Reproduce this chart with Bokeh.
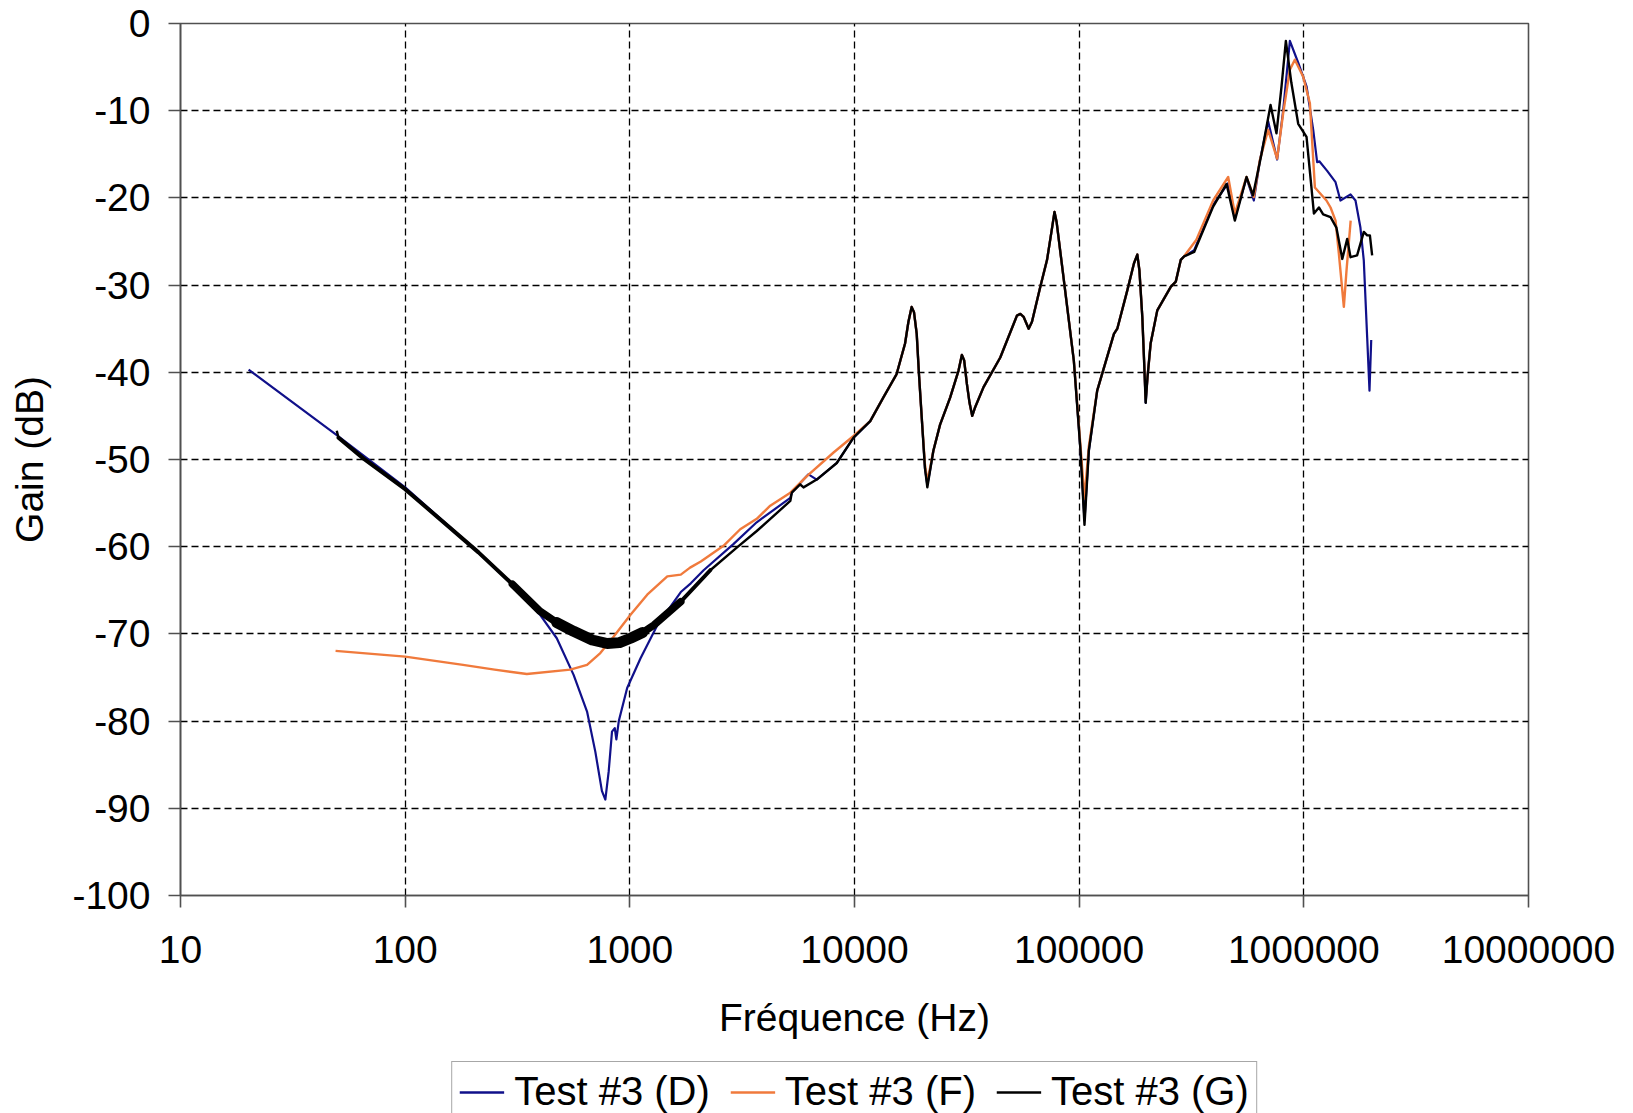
from bokeh.plotting import figure
from bokeh.layouts import column
from bokeh.models import FixedTicker, NumeralTickFormatter, Legend, LegendItem, ColumnDataSource
from bokeh.embed import file_html
from bokeh.resources import INLINE

# ---------------- data ----------------
FREQ_D = [20.1, 49.6, 100, 212, 300, 398, 473, 562, 645, 702, 751, 778, 805, 833, 857, 871, 893,
          973, 1116, 1325, 1686, 1868, 2130, 2890, 3670, 5180, 5260, 5930, 6240, 6790, 8340, 9900,
          11750, 13430, 15400, 16790, 17380, 17960, 18400, 18920, 19360, 19920, 20590, 21100, 21680,
          22440, 24040, 26650, 29040, 30060, 30780, 31630, 32510, 33420, 34440, 37530, 44550, 52840,
          54700, 56620, 59600, 61660, 67150, 71960, 75900, 77650, 79400, 84500, 94700, 101400, 105600,
          110400, 120300, 142800, 147800, 163800, 175400, 181500, 185400, 191000, 194500, 197700,
          201400, 208000, 222700, 255700, 269200, 283400, 293200, 325000, 394800, 460600, 493000,
          555700, 598900, 636600, 693500, 760500, 809100, 866700, 944000, 1028000, 1101000, 1146000,
          1172000, 1270000, 1384000, 1455000, 1614000, 1698000, 1786000, 1849000, 1914000, 1960000,
          1995000]
GAIN_D = [-39.7, -47.2, -53.2, -60.65, -64.3, -67.8, -70.5, -74.7, -78.9, -83.5, -88.0, -89.0, -85.8,
          -81.2, -80.8, -82.1, -80.0, -76.2, -72.8, -69.0, -65.2, -64.2, -62.7, -59.7, -57.2, -54.4,
          -53.8, -52.3, -51.7, -52.3, -50.4, -47.5, -45.6, -42.9, -40.2, -36.7, -34.2, -32.5, -33.1,
          -35.6, -40.2, -45.2, -51.0, -52.9, -51.3, -49.0, -46.0, -42.9, -39.8, -38.0, -38.65, -41.3,
          -43.5, -45.0, -44.0, -41.7, -38.3, -33.5, -33.3, -33.65, -35.0, -34.2, -30.2, -27.1, -23.3,
          -21.6, -22.8, -28.4, -38.7, -49.0, -57.0, -49.0, -42.1, -35.6, -35.0, -30.6, -27.5, -26.5,
          -28.3, -33.65, -38.65, -43.5, -40.6, -36.7, -32.9, -30.2, -29.6, -27.1, -26.7, -26.0, -20.8,
          -18.3, -22.3, -17.7, -20.3, -15.8, -11.2, -15.6, -10.0, -2.0, -4.5, -7.2, -12.2, -15.9,
          -15.8, -16.9, -18.2, -20.3, -19.6, -20.3, -23.4, -27.2, -36.0, -42.1, -36.3]

FREQ_F = [49, 100, 181, 250, 348, 543, 645, 739, 848, 1007, 1195, 1468, 1686, 1854, 2070, 2612, 3100,
          3673, 4217, 5180, 6140, 8070, 9900, 11750, 13430, 15400, 16790, 17380, 17960, 18400, 18920,
          19360, 19920, 20590, 21100, 21680, 22440, 24040, 26650, 29040, 30060, 30780, 31630, 32510,
          33420, 34440, 37530, 44550, 52840, 54700, 56620, 59600, 61660, 67150, 71960, 75900, 77650,
          79400, 84500, 94700, 101400, 105600, 110400, 120300, 142800, 147800, 163800, 175400,
          181500, 185400, 191000, 194500, 197700, 201400, 208000, 222700, 255700, 269200, 283400,
          293200, 332500, 394800, 460600, 493000, 555700, 598900, 636600, 693500, 760500, 809100,
          866700, 912000, 993400, 1064000, 1120000, 1261000, 1315000, 1384000, 1432000, 1507000,
          1549000, 1616000]
GAIN_F = [-71.95, -72.6, -73.55, -74.1, -74.6, -74.1, -73.55, -72.2, -70.3, -67.8, -65.5, -63.4,
          -63.2, -62.4, -61.7, -59.9, -58.0, -56.8, -55.3, -53.8, -51.9, -49.2, -47.3, -45.6, -42.9,
          -40.2, -36.7, -34.2, -32.5, -33.1, -35.6, -40.2, -45.2, -50.6, -52.5, -51.0, -49.0, -46.0,
          -42.9, -39.8, -38.0, -38.65, -41.3, -43.5, -45.0, -44.0, -41.7, -38.3, -33.5, -33.3, -33.65,
          -35.0, -34.2, -30.2, -27.1, -23.3, -21.6, -22.8, -28.4, -38.7, -48.5, -54.5, -48.5, -42.1,
          -35.6, -35.0, -30.6, -27.5, -26.5, -28.3, -33.65, -38.65, -43.0, -40.6, -36.7, -32.9, -30.2,
          -29.6, -27.1, -26.7, -24.8, -20.3, -17.6, -21.8, -17.6, -19.9, -15.7, -12.2, -15.5, -10.3,
          -5.3, -4.15, -6.1, -9.15, -18.8, -20.3, -21.1, -22.6, -26.4, -32.5, -28.3, -22.6]

FREQ_G = [49.6, 50.5, 65.3, 100, 212, 300, 398, 473, 562, 680, 793, 900, 1007, 1140, 1279, 1686, 2280,
          2992, 3673, 5180, 5260, 5730, 5930, 6790, 8340, 9900, 11750, 13430, 15400, 16790, 17380,
          17960, 18400, 18920, 19360, 19920, 20590, 21100, 21680, 22440, 24040, 26650, 29040, 30060,
          30780, 31630, 32510, 33420, 34440, 37530, 44550, 52840, 54700, 56620, 59600, 61660, 67150,
          71960, 75900, 77650, 79400, 84500, 94700, 101400, 105600, 110400, 120300, 142800, 147800,
          163800, 175400, 181500, 185400, 191000, 194500, 197700, 201400, 208000, 222700, 255700,
          269200, 283400, 293200, 325000, 394800, 453000, 493000, 555700, 594000, 648600, 711000,
          755400, 795700, 831800, 880000, 944000, 1028000, 1081000, 1109000, 1167000, 1219000,
          1315000, 1396000, 1483000, 1560000, 1614000, 1726000, 1849000, 1914000, 1968000, 2014000]
GAIN_G = [-46.7, -47.5, -49.9, -53.4, -60.65, -64.3, -67.4, -68.7, -69.7, -70.7, -71.1, -71.0, -70.5,
          -69.85, -69.0, -66.3, -62.7, -60.1, -58.2, -54.75, -53.8, -52.85, -53.2, -52.3, -50.4, -47.5,
          -45.6, -42.9, -40.2, -36.7, -34.2, -32.5, -33.1, -35.6, -40.2, -45.2, -51.0, -53.2, -51.3,
          -49.0, -46.0, -42.9, -39.8, -38.0, -38.65, -41.3, -43.5, -45.0, -44.0, -41.7, -38.3, -33.5,
          -33.3, -33.65, -35.0, -34.2, -30.2, -27.1, -23.3, -21.6, -22.8, -28.4, -38.7, -49.0, -57.5,
          -49.0, -42.1, -35.6, -35.0, -30.6, -27.5, -26.5, -28.3, -33.65, -38.65, -43.5, -40.6, -36.7,
          -32.9, -30.2, -29.6, -27.1, -26.7, -26.2, -21.0, -18.4, -22.6, -17.6, -19.7, -14.9, -9.35,
          -12.6, -7.2, -2.0, -6.8, -11.5, -13.0, -18.8, -21.8, -21.1, -21.9, -22.2, -23.4, -27.0, -24.7,
          -26.8, -26.6, -23.9, -24.3, -24.3, -26.6]

SERIES_LABELS = ["Test #3 (D)", "Test #3 (F)", "Test #3 (G)"]
X_TICKS = [10, 100, 1000, 10000, 100000, 1000000, 10000000]
Y_TICKS = [-100, -90, -80, -70, -60, -50, -40, -30, -20, -10, 0]

COL_D = "#10108a"
COL_F = "#f07a3c"
COL_G = "#000000"
FONT = "Liberation Sans"

# ---------------- main figure ----------------
p = figure(width=1633, height=1053, x_axis_type="log", x_range=(10, 1e7), y_range=(-100, 0),
           output_backend="svg", toolbar_location=None,
           min_border_left=180, min_border_right=105, min_border_top=23, min_border_bottom=158)
p.background_fill_color = "white"
p.border_fill_color = "white"
p.outline_line_color = "#505050"
p.outline_line_width = 1.6

for ax in (p.xaxis, p.yaxis):
    ax.axis_line_color = "#505050"
    ax.axis_line_width = 1.6
    ax.major_tick_line_color = "#505050"
    ax.major_tick_line_width = 1.6
    ax.major_tick_out = 12
    ax.major_tick_in = 0
    ax.minor_tick_line_color = None
    ax.major_label_text_font = FONT
    ax.major_label_text_font_size = "39px"
    ax.major_label_text_color = "black"
    ax.axis_label_text_font = FONT
    ax.axis_label_text_font_size = "39px"
    ax.axis_label_text_font_style = "normal"
    ax.axis_label_text_color = "black"

p.xaxis.ticker = FixedTicker(ticks=X_TICKS)
p.xaxis.formatter = NumeralTickFormatter(format="0")
p.yaxis.ticker = FixedTicker(ticks=Y_TICKS)
p.yaxis.formatter = NumeralTickFormatter(format="0")
p.xaxis.axis_label = "Fréquence (Hz)"
p.yaxis.axis_label = "Gain (dB)"
p.xaxis.major_label_standoff = 28
p.xaxis.axis_label_standoff = 30
p.yaxis.major_label_standoff = 18
p.yaxis.axis_label_standoff = 18

for g in (p.xgrid, p.ygrid):
    g.grid_line_color = "black"
    g.grid_line_width = 1.3
    g.grid_line_dash = "7 4"

src_d = ColumnDataSource(dict(f=FREQ_D, g=GAIN_D))
src_f = ColumnDataSource(dict(f=FREQ_F, g=GAIN_F))
src_g = ColumnDataSource(dict(f=FREQ_G, g=GAIN_G))

p.line("f", "g", source=src_d, line_color=COL_D, line_width=2.2, line_join="round")
p.line("f", "g", source=src_f, line_color=COL_F, line_width=2.4, line_join="round")
p.line("f", "g", source=src_g, line_color=COL_G, line_width=2.4, line_join="round")

# noisy low-frequency part of G shown as a thicker trace
def subset(lo, hi):
    pts = [(f, g) for f, g in zip(FREQ_G, GAIN_G) if lo <= f <= hi]
    return [a for a, b in pts], [b for a, b in pts]

for lo, hi, w in ((50, 2300, 4.0), (300, 1700, 7.5), (473, 1140, 11.0)):
    xs, ys = subset(lo, hi)
    p.line(xs, ys, line_color=COL_G, line_width=w, line_join="round", line_cap="round")

# ---------------- legend strip (bottom, cut by the page edge) ----------------
q = figure(width=1633, height=60, x_range=(0, 1), y_range=(0, 1),
           output_backend="svg", toolbar_location=None,
           min_border_left=180, min_border_right=105, min_border_top=0, min_border_bottom=0)
q.axis.visible = False
q.grid.visible = False
q.outline_line_color = None
q.background_fill_color = "white"
q.border_fill_color = "white"
# same series, outside this strip's ranges: only their legend samples show
l_d = q.line("f", "g", source=src_d, line_color=COL_D, line_width=2.6)
l_f = q.line("f", "g", source=src_f, line_color=COL_F, line_width=2.6)
l_g = q.line("f", "g", source=src_g, line_color=COL_G, line_width=2.6)

legend = Legend(items=[LegendItem(label=SERIES_LABELS[0], renderers=[l_d]),
                       LegendItem(label=SERIES_LABELS[1], renderers=[l_f]),
                       LegendItem(label=SERIES_LABELS[2], renderers=[l_g])],
                orientation="horizontal", location="top_center")
legend.label_text_font = FONT
legend.label_text_font_size = "40px"
legend.label_text_color = "black"
legend.glyph_width = 45
legend.glyph_height = 20
legend.label_standoff = 10
legend.spacing = 20
legend.padding = 7
legend.margin = 8
legend.border_line_color = "#505050"
legend.border_line_width = 1.6
legend.background_fill_color = "white"
legend.background_fill_alpha = 1.0
q.add_layout(legend, "center")

layout = column(p, q, spacing=0)
open("out.html", "w").write(file_html(layout, INLINE))
